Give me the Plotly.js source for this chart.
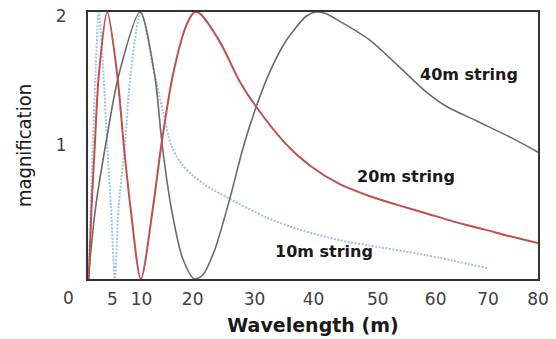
<!DOCTYPE html>
<html>
<head>
<meta charset="utf-8">
<script src="https://cdn.plot.ly/plotly-3.0.1.min.js"></script>
<style>
html,body{margin:0;padding:0;background:#fff;}
#chart{width:556px;height:339px;}
</style>
</head>
<body>
<div id="chart"></div>
<script>
// Tick labels (positions, in plot x units)
var xTickPos  = [4.36, 9.52, 18.6, 29.6, 40.1, 51.5, 61.8, 71.1, 80];
var xTickText = ['5', '10', '20', '30', '40', '50', '60', '70', '80'];
var yTickPos  = [1, 1.97];
var yTickText = ['1', '2'];

// 10m string (blue dotted)
var x10 = [0.1, 0.85, 1.33, 1.92, 2.76, 3.42, 4.1, 4.77, 5.43, 6.55, 7.56, 9.43, 11.84, 13.31, 14.81, 16.5, 18.5, 21.0, 25.2, 31.8, 37.6, 44.8, 50.1, 59.9, 71.1];
var y10 = [0, 1.0, 1.53, 2.0, 1.53, 1.0, 0.53, 0, 0.53, 1.0, 1.53, 2.0, 1.53, 1.26, 1.0, 0.87, 0.78, 0.70, 0.60, 0.46, 0.37, 0.29, 0.25, 0.18, 0.08];

// 20m string (red)
var x20 = [0.14, 0.62, 1.21, 1.92, 3.42, 5.2, 6.37, 7.57, 9.4, 11.53, 13.03, 15.1, 17.48, 18.96, 19.85, 23.4, 26.97, 29.9, 35.0, 39.43, 44.77, 50.1, 55.0, 59.9, 65.0, 70.57, 75.0, 80];
var y20 = [0, 0.53, 1.0, 1.53, 2.0, 1.53, 1.0, 0.53, 0, 0.53, 1.0, 1.53, 1.9, 2.0, 1.99, 1.78, 1.48, 1.29, 1.02, 0.85, 0.71, 0.62, 0.555, 0.495, 0.43, 0.37, 0.32, 0.27];

// 40m string (gray)
var x40 = [0.04, 1.33, 3.11, 5.48, 9.25, 11.84, 13.2, 14.81, 16.82, 18.9, 20.4, 22.5, 25.2, 27.55, 29.9, 32.3, 35.3, 38.85, 40.5, 42.1, 44.77, 50.1, 55.06, 59.9, 63.45, 69.3, 75.4, 80];
var y40 = [0, 0.53, 1.0, 1.53, 2.0, 1.53, 1.0, 0.53, 0.155, 0, 0.03, 0.215, 0.60, 0.98, 1.29, 1.55, 1.79, 1.97, 2.0, 1.99, 1.93, 1.79, 1.60, 1.41, 1.30, 1.18, 1.055, 0.95];

// Series labels
var seriesNames = ['10m string', '20m string', '40m string'];
var labelX = [41.9, 56.5, 67.7];
var labelY = [0.208, 0.77, 1.535];

var traces = [
  {x: x10, y: y10, name: seriesNames[0], type: 'scatter', mode: 'lines',
   line: {color: '#9dc3e6', width: 2, dash: '2px,1.5px', shape: 'spline', smoothing: 0.8}},
  {x: x40, y: y40, name: seriesNames[2], type: 'scatter', mode: 'lines',
   line: {color: '#6b6b6b', width: 1.6, shape: 'spline', smoothing: 0.8}},
  {x: x20, y: y20, name: seriesNames[1], type: 'scatter', mode: 'lines',
   line: {color: '#c0504d', width: 2, shape: 'spline', smoothing: 0.8}}
];

var annotations = seriesNames.map(function (t, i) {
  return {x: labelX[i], y: labelY[i], xref: 'x', yref: 'y', text: t, showarrow: false,
    font: {family: 'DejaVu Sans', size: 16, color: '#1a1a1a', weight: 'bold'}};
});
annotations.push({x: -0.059, y: 0, xref: 'paper', yref: 'paper', yanchor: 'top', yshift: -7,
  text: '0', showarrow: false, font: {family: 'DejaVu Sans', size: 17, color: '#404040'}});

var layout = {
  width: 556, height: 339,
  margin: {l: 88, r: 18, t: 12, b: 60},
  paper_bgcolor: '#fff', plot_bgcolor: '#fff',
  showlegend: false,
  xaxis: {
    range: [0, 80], tickmode: 'array', tickvals: xTickPos, ticktext: xTickText,
    showgrid: false, zeroline: false,
    showline: true, mirror: true, linecolor: '#333', linewidth: 2,
    ticks: 'outside', ticklen: 4, tickcolor: 'rgba(0,0,0,0)',
    tickfont: {family: 'DejaVu Sans', size: 17, color: '#404040'},
    title: {text: 'Wavelength (m)', standoff: 10,
      font: {family: 'DejaVu Sans', size: 19, color: '#1a1a1a', weight: 'bold'}}
  },
  yaxis: {
    range: [0, 2], tickmode: 'array', tickvals: yTickPos, ticktext: yTickText,
    showgrid: false, zeroline: false,
    showline: true, mirror: true, linecolor: '#333', linewidth: 2,
    ticks: 'outside', ticklen: 16, tickcolor: 'rgba(0,0,0,0)',
    tickfont: {family: 'DejaVu Sans', size: 17, color: '#404040'},
    title: {text: 'magnification', standoff: 19,
      font: {family: 'Liberation Sans Narrow, DejaVu Sans Condensed, sans-serif', size: 20, color: '#1a1a1a'}}
  },
  annotations: annotations
};

Plotly.newPlot('chart', traces, layout, {displayModeBar: false, staticPlot: true});
</script>
</body>
</html>
